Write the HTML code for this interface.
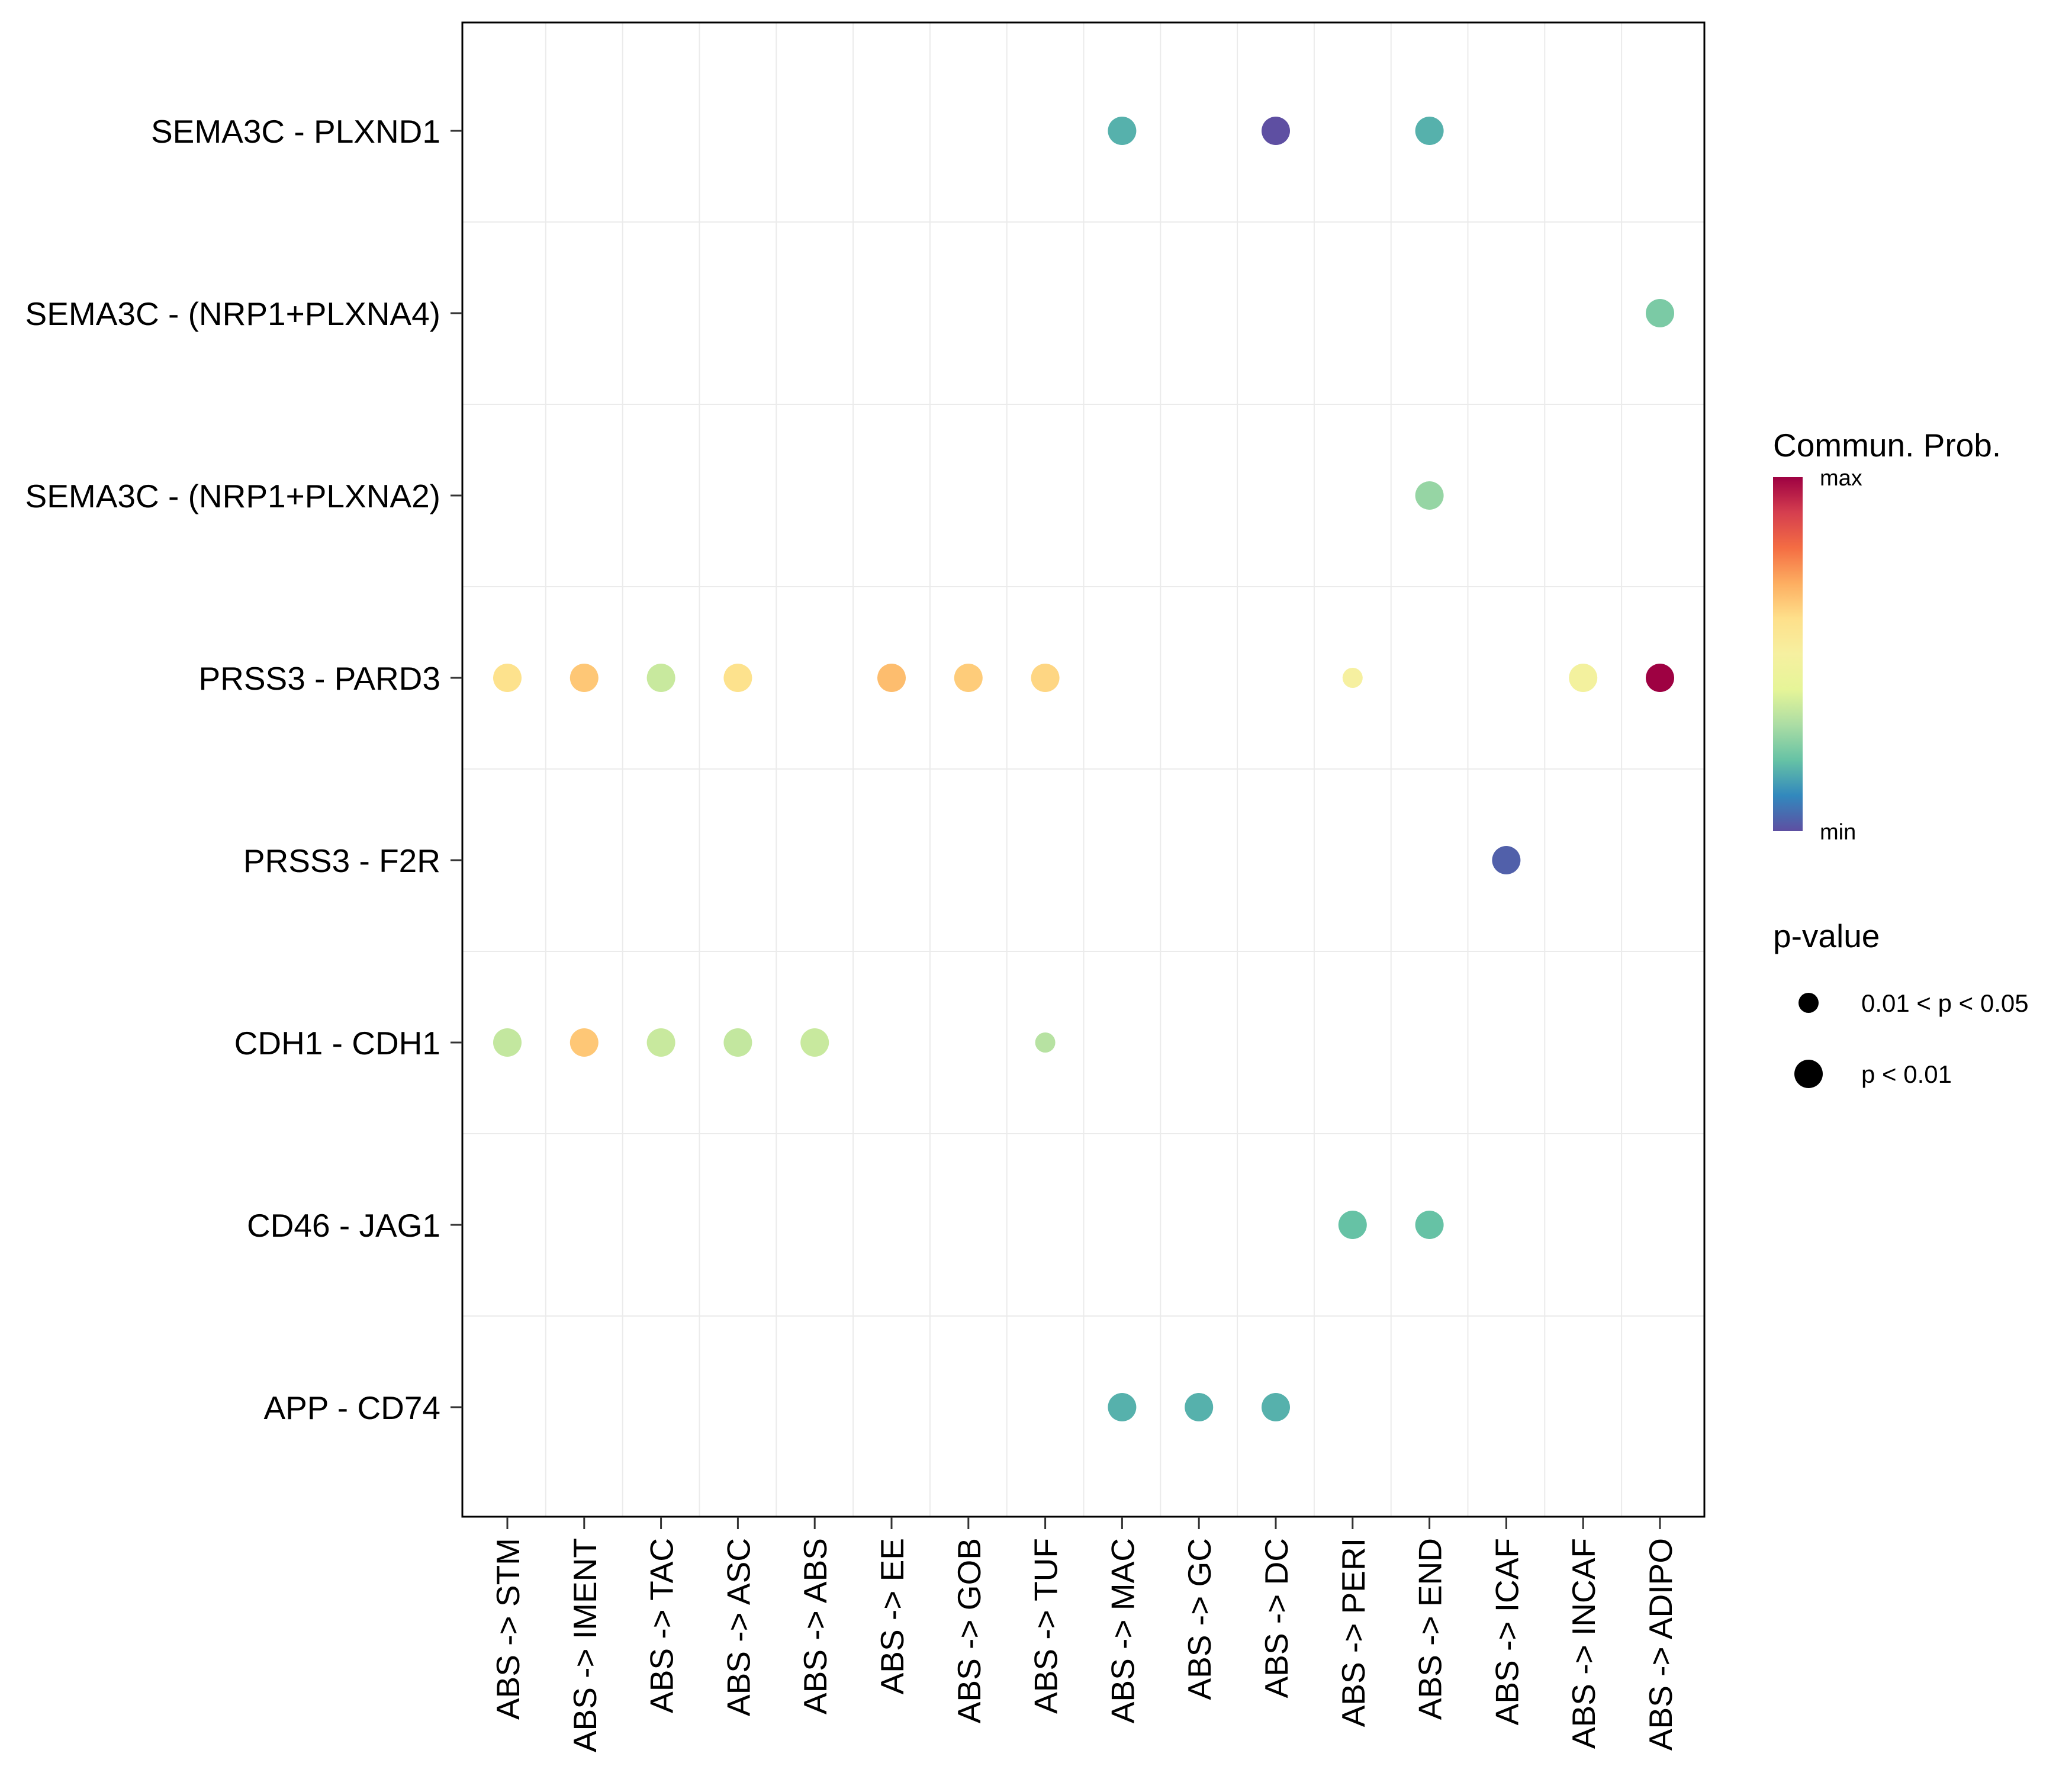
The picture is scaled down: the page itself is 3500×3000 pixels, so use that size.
<!DOCTYPE html>
<html><head><meta charset="utf-8"><style>
html,body{margin:0;padding:0;background:#fff;}
svg{display:block;font-family:"Liberation Sans",Arial,sans-serif;}
</style></head><body>
<svg id="chart" width="3500" height="3000" viewBox="0 0 3500 3000" xmlns="http://www.w3.org/2000/svg">
<defs>
<linearGradient id="spec" x1="0" y1="1" x2="0" y2="0">
<stop offset="0" stop-color="#5e4fa2"/><stop offset="0.1" stop-color="#3288bd"/><stop offset="0.2" stop-color="#66c2a5"/><stop offset="0.3" stop-color="#abdda4"/><stop offset="0.4" stop-color="#e6f598"/><stop offset="0.5" stop-color="#f6f0a0"/><stop offset="0.6" stop-color="#fee08b"/><stop offset="0.7" stop-color="#fdae61"/><stop offset="0.8" stop-color="#f46d43"/><stop offset="0.9" stop-color="#d53e4f"/><stop offset="1" stop-color="#9e0142"/>
</linearGradient>
</defs>
<g id="grid"></g>
<g id="marks"></g>
<rect x="781" y="38" width="2098" height="2524" fill="none" stroke="#000" stroke-width="3"/>
<g id="axes"></g>
<g>
<text x="2995" y="771" font-size="55">Commun. Prob.</text>
<rect x="2995" y="806" width="50" height="598" fill="url(#spec)"/>
<text x="3074" y="820" font-size="38">max</text>
<text x="3074" y="1418" font-size="38">min</text>
</g>
<g>
<text x="2995" y="1600" font-size="55">p-value</text>
<circle cx="3055" cy="1694" r="17" fill="#000"/>
<text x="3144" y="1709" font-size="42">0.01 &lt; p &lt; 0.05</text>
<circle cx="3055" cy="1814" r="24" fill="#000"/>
<text x="3144" y="1829" font-size="42">p &lt; 0.01</text>
</g>
</svg>
<script>
const xCategories = ["ABS -> STM","ABS -> IMENT","ABS -> TAC","ABS -> ASC","ABS -> ABS","ABS -> EE","ABS -> GOB","ABS -> TUF","ABS -> MAC","ABS -> GC","ABS -> DC","ABS -> PERI","ABS -> END","ABS -> ICAF","ABS -> INCAF","ABS -> ADIPO"];
const yCategories = ["SEMA3C - PLXND1","SEMA3C - (NRP1+PLXNA4)","SEMA3C - (NRP1+PLXNA2)","PRSS3 - PARD3","PRSS3 - F2R","CDH1 - CDH1","CD46 - JAG1","APP - CD74"];
const pointX = [8,10,12, 15, 12, 0,1,2,3,5,6,7,11,14,15, 13, 0,1,2,3,4,7, 11,12, 8,9,10];
const pointY = [0,0,0, 1, 2, 3,3,3,3,3,3,3,3,3,3, 4, 5,5,5,5,5,5, 6,6, 7,7,7];
const pointProb = [0.17,0.0,0.17, 0.23, 0.27, 0.59,0.65,0.35,0.59,0.67,0.64,0.62,0.5,0.48,1.0, 0.03, 0.34,0.65,0.35,0.34,0.35,0.32, 0.2,0.2, 0.17,0.17,0.17];
const pointPval = [2,2,2, 2, 2, 2,2,2,2,2,2,2,1,2,2, 2, 2,2,2,2,2,1, 2,2, 2,2,2];

const NS="http://www.w3.org/2000/svg";
const X0=857, DX=129.8, Y0=221, DY=308;
function xScale(i){return X0+i*DX;}
function yScale(j){return Y0+j*DY;}
function rScale(p){return p===2?24:17;}
const stops=[[0,"#5e4fa2"],[0.1,"#3288bd"],[0.2,"#66c2a5"],[0.3,"#abdda4"],[0.4,"#e6f598"],[0.5,"#f6f0a0"],[0.6,"#fee08b"],[0.7,"#fdae61"],[0.8,"#f46d43"],[0.9,"#d53e4f"],[1,"#9e0142"]];
function hex(h){return [1,3,5].map(k=>parseInt(h.substr(k,2),16));}
function colorScale(v){
  v=Math.max(0,Math.min(1,v));
  for(let k=0;k<stops.length-1;k++){
    if(v<=stops[k+1][0]){
      const t=(v-stops[k][0])/(stops[k+1][0]-stops[k][0]);
      const a=hex(stops[k][1]),b=hex(stops[k+1][1]);
      return "rgb("+a.map((c,i)=>Math.round(c+(b[i]-c)*t)).join(",")+")";
    }
  }
  return stops[stops.length-1][1];
}
function mk(tag,attrs,parent){const e=document.createElementNS(NS,tag);for(const k in attrs)e.setAttribute(k,attrs[k]);parent.appendChild(e);return e;}
const grid=document.getElementById("grid"), axes=document.getElementById("axes"), marks=document.getElementById("marks");
for(let i=0;i<xCategories.length-1;i++){
  const x=xScale(i+0.5);
  const l=mk("line",{x1:x,x2:x,y1:38,y2:2562,stroke:"#ebebeb","stroke-width":2},grid);
  
  
}
for(let j=0;j<yCategories.length-1;j++){
  const y=yScale(j+0.5);
  const l=mk("line",{x1:781,x2:2879,y1:y,y2:y,stroke:"#ebebeb","stroke-width":2},grid);
  
  
}
yCategories.forEach((c,j)=>{
  const y=yScale(j);
  const t=mk("line",{x1:761,x2:781,y1:y,y2:y,stroke:"#333","stroke-width":3},axes);
  
  
  const tx=mk("text",{x:744,y:y+20,"font-size":55,"text-anchor":"end",fill:"#000"},axes);
  tx.textContent=c;
  
  
});
xCategories.forEach((c,i)=>{
  const x=xScale(i);
  const t=mk("line",{x1:x,x2:x,y1:2562,y2:2583,stroke:"#333","stroke-width":3},axes);
  
  
  const tx=mk("text",{x:0,y:0,"font-size":55,"text-anchor":"end",fill:"#000",transform:"translate("+(x+20)+",2598) rotate(-90)"},axes);
  tx.textContent=c;
  
  
});
for(let k=0;k<pointX.length;k++){
  const c=mk("circle",{cx:xScale(pointX[k]),cy:yScale(pointY[k]),r:rScale(pointPval[k]),fill:colorScale(pointProb[k])},marks);
  
  
}
</script>
</body></html>
